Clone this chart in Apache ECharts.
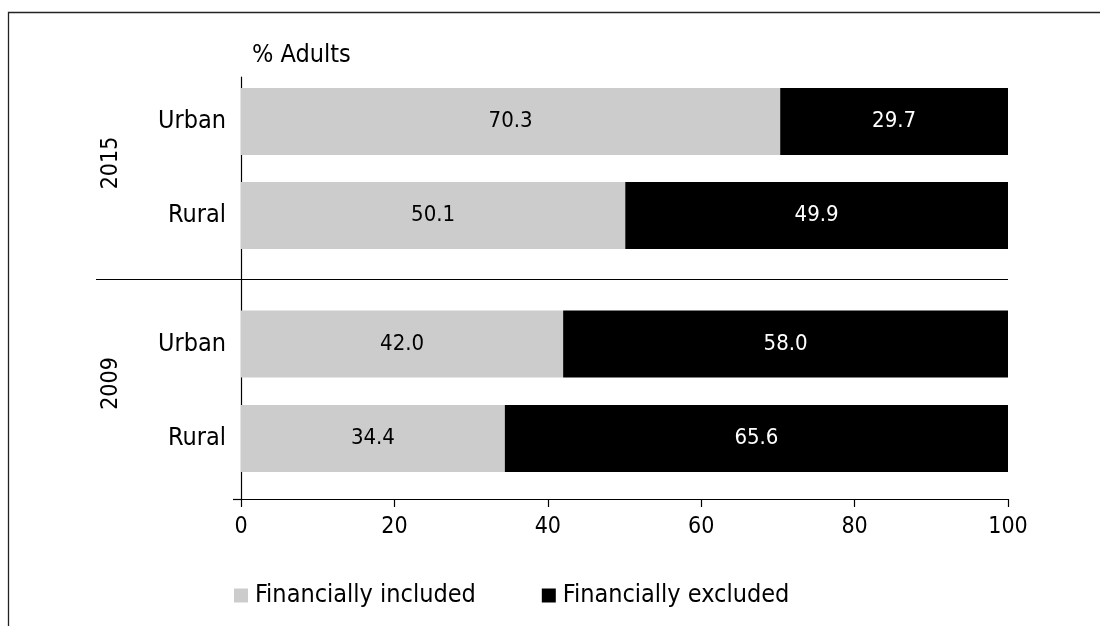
<!DOCTYPE html>
<html>
<head>
<meta charset="utf-8">
<script src="https://cdn.jsdelivr.net/npm/echarts@6/dist/echarts.min.js"></script>
<style>
html,body{margin:0;padding:0;background:#fff;}
#chart{width:1100px;height:626px;}
</style>
</head>
<body>
<div id="chart"></div>
<script>
// ---- data ----
const areas = ['Urban', 'Rural'];
const years = ['2015', '2009'];
const included2015 = [70.3, 50.1];
const excluded2015 = [29.7, 49.9];
const included2009 = [42.0, 34.4];
const excluded2009 = [58.0, 65.6];
const seriesNames = ['Financially included', 'Financially excluded'];
const xTicks = [0, 20, 40, 60, 80, 100];
const axisTitle = '% Adults';

const FONT = '"Liberation Sans Narrow", "DejaVu Sans Condensed", "Liberation Sans", sans-serif';
const GRAY = '#cccccc';
const BLACK = '#000000';

const chart = echarts.init(document.getElementById('chart'), null, {renderer: 'canvas'});

function hiddenX(gi) {
  return {type: 'value', gridIndex: gi, min: xTicks[0], max: xTicks[xTicks.length - 1],
    show: false, splitLine: {show: false}};
}
function catY(gi) {
  return {type: 'category', gridIndex: gi, data: areas, inverse: true,
    axisLine: {show: false}, axisTick: {show: false},
    axisLabel: {color: '#000', fontFamily: FONT, fontSize: 25, margin: 15}};
}
function barSeries(name, data, gi, color, labelColor) {
  return {
    type: 'bar', name: name, stack: 'g' + gi, xAxisIndex: gi, yAxisIndex: gi,
    data: data, barWidth: 67, itemStyle: {color: color},
    label: {show: true, position: 'inside', color: labelColor, fontFamily: FONT, fontSize: 22,
      formatter: p => p.value.toFixed(1)},
    emphasis: {disabled: true}, silent: true
  };
}

const option = {
  backgroundColor: '#fff',
  animation: false,
  title: {text: axisTitle, left: 247, top: 38,
    textStyle: {fontFamily: FONT, fontSize: 25, fontWeight: 'normal', color: '#000'}},
  legend: {
    data: seriesNames, left: 229, top: 578, icon: 'rect', itemWidth: 14, itemHeight: 14,
    itemGap: 66, selectedMode: false,
    textStyle: {fontFamily: FONT, fontSize: 25, color: '#000', padding: [0, 0, 0, 2]}
  },
  grid: [
    {left: 241, right: 92, top: 74.5, height: 188},
    {left: 241, right: 92, top: 296.75, height: 189},
    {left: 241, right: 92, top: 77, bottom: 127}
  ],
  xAxis: [
    hiddenX(0), hiddenX(1),
    {type: 'value', gridIndex: 2, min: 0, max: 100, interval: 20,
      axisLine: {show: true, lineStyle: {color: '#000', width: 1.2}},
      axisTick: {show: true, length: 8, lineStyle: {color: '#000', width: 1.2}},
      axisLabel: {color: '#000', fontFamily: FONT, fontSize: 23, margin: 17},
      splitLine: {show: false}}
  ],
  yAxis: [
    catY(0), catY(1),
    {type: 'value', gridIndex: 2, min: 0, max: 1,
      axisLine: {show: true, lineStyle: {color: '#000', width: 1.2}},
      axisTick: {show: false}, axisLabel: {show: false}, splitLine: {show: false}}
  ],
  series: [
    barSeries(seriesNames[0], included2015, 0, GRAY, '#000'),
    barSeries(seriesNames[1], excluded2015, 0, BLACK, '#fff'),
    barSeries(seriesNames[0], included2009, 1, GRAY, '#000'),
    barSeries(seriesNames[1], excluded2009, 1, BLACK, '#fff')
  ],
  graphic: [
    // outer frame (left and top edges visible)
    {type: 'rect', shape: {x: 8.5, y: 12.5, width: 1200, height: 700},
      style: {fill: null, stroke: '#222', lineWidth: 1.3}, silent: true},
    // group separator
    {type: 'line', shape: {x1: 96, y1: 279.5, x2: 1008, y2: 279.5},
      style: {stroke: '#000', lineWidth: 1.2}, silent: true},
    // small tick at bottom of y-axis
    {type: 'line', shape: {x1: 233, y1: 499.5, x2: 241, y2: 499.5},
      style: {stroke: '#000', lineWidth: 1.2}, silent: true},
    // year labels
    {type: 'text', x: 111, y: 163, rotation: Math.PI / 2,
      style: {text: years[0], fontFamily: FONT, fontSize: 23, fill: '#000', align: 'center', verticalAlign: 'middle'}},
    {type: 'text', x: 111, y: 383.5, rotation: Math.PI / 2,
      style: {text: years[1], fontFamily: FONT, fontSize: 23, fill: '#000', align: 'center', verticalAlign: 'middle'}}
  ]
};
chart.setOption(option);
</script>
</body>
</html>
